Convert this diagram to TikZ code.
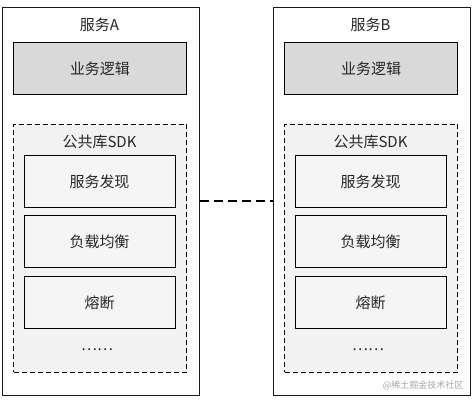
\documentclass[tikz,border=0pt]{standalone}
\usepackage{fontspec}
\newfontfamily\cjk{Noto Sans CJK SC}[Scale=1]
\begin{document}
\begin{tikzpicture}[x=1pt,y=-1pt,
  outerbox/.style={draw=black!90,line width=1.5pt},
  logicbox/.style={draw=black,line width=1pt,fill=black!15},
  sdkbox/.style={draw=black,line width=1pt,dash pattern=on 5pt off 3pt,fill=black!5},
  modbox/.style={draw=black,line width=1pt,fill=white!96!black},
  lbl/.style={font=\cjk\fontsize{15}{17}\selectfont,text=black!85},
  link/.style={draw=black,line width=1.4pt,dash pattern=on 9pt off 5pt}]
\useasboundingbox (0,0) rectangle (472,403);
\foreach \s/\dx in {A/0,B/271}{
  \begin{scope}[xshift=\dx pt]
  \node[outerbox,minimum width=197,minimum height=388,anchor=north west] (box\s) at (1.5,7) {};
  \node[lbl] (title\s) at (99.5,25) {服务\s};
  \node[logicbox,minimum width=173,minimum height=52,anchor=north west,lbl] (logic\s) at (13,42) {业务逻辑};
  \node[sdkbox,minimum width=173,minimum height=248,anchor=north west] (sdk\s) at (13,124) {};
  \node[lbl] (sdktitle\s) at (99.5,142) {公共库SDK};
  \node[modbox,minimum width=151,minimum height=52,anchor=north west,lbl] (disc\s) at (23.5,155) {服务发现};
  \node[modbox,minimum width=151,minimum height=52,anchor=north west,lbl] (lb\s) at (23.5,215) {负载均衡};
  \node[modbox,minimum width=151,minimum height=52,anchor=north west,lbl] (cb\s) at (23.5,276) {熔断};
  \node[lbl] (more\s) at (97,350) {……};
  \end{scope}
}
\path[link] (boxA.east |- 0,201) -- (boxB.west |- 0,201);
\node[font=\cjk\fontsize{9}{11}\selectfont,text=black!35,anchor=east] (wm) at (467,385) {@稀土掘金技术社区};
\end{tikzpicture}
\end{document}
